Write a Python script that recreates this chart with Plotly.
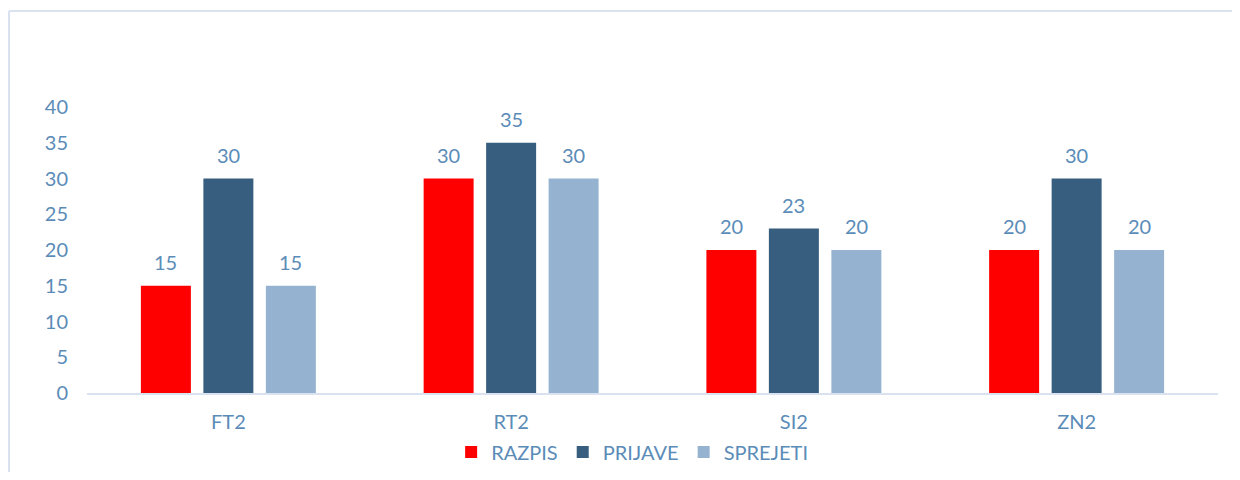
import plotly.graph_objects as go

categories = ["FT2", "RT2", "SI2", "ZN2"]
razpis = [15, 30, 20, 20]
prijave = [30, 35, 23, 30]
sprejeti = [15, 30, 20, 20]
series_names = ["RAZPIS", "PRIJAVE", "SPREJETI"]
colors = ["#FF0000", "#375E7E", "#95B3D1"]

TXT = "#5B8CB8"
FONT = "Lato, 'Open Sans', sans-serif"

# page offset (body margin) is 8px
OFF = 8
W, H = 1232, 464
ml, mr, mt = 87 - OFF, 22, 107 - OFF
mb = H - (393 - OFF)
pw, ph = W - ml - mr, H - mt - mb
BARGAP, GROUPGAP = 0.337, 0.2

fig = go.Figure()
series = [razpis, prijave, sprejeti]
for name, vals, col in zip(series_names, series, colors):
    fig.add_trace(go.Bar(
        x=categories, y=vals, name=name, marker_color=col,
        marker_line_width=0, cliponaxis=False,
    ))

# data labels placed above bars
cat_px = pw / len(categories)
slot_px = cat_px * (1 - BARGAP) / len(series)
annotations = []
for i, vals in enumerate(series):
    for c, v in zip(categories, vals):
        annotations.append(dict(
            x=c, y=v, xref="x", yref="y", text=str(v), showarrow=False,
            xshift=(i - 1) * slot_px, yshift=10, yanchor="bottom",
            font=dict(size=20, color=TXT, family=FONT)))

def px_to_paper_x(px):
    return (px - OFF - ml) / pw

def px_to_paper_y(py):
    return (H - mb - (py - OFF)) / ph

bx0, by1 = px_to_paper_x(9), px_to_paper_y(11)
bx1, by0 = px_to_paper_x(1240), px_to_paper_y(480)

fig.update_layout(
    width=W, height=H,
    margin=dict(l=ml, r=mr, t=mt, b=mb, autoexpand=False),
    paper_bgcolor="white", plot_bgcolor="white",
    barmode="group", bargap=BARGAP, bargroupgap=GROUPGAP,
    font=dict(family=FONT, color=TXT, size=20),
    showlegend=True,
    legend=dict(orientation="h", x=0.482, xanchor="center",
                y=px_to_paper_y(452), yanchor="middle",
                font=dict(size=20, color=TXT, family=FONT),
                itemwidth=30, traceorder="normal"),
    xaxis=dict(showgrid=False, showline=True, linecolor="#D9E2EE", linewidth=2,
               ticks="", tickfont=dict(size=20, color=TXT), ticklabelstandoff=10,
               zeroline=False),
    yaxis=dict(range=[0, 40], dtick=5, showgrid=False, showline=False,
               zeroline=False, tickfont=dict(size=20, color=TXT),
               ticklabelstandoff=18),
    annotations=annotations,
    shapes=[
        dict(type="line", xref="paper", yref="paper",
             x0=bx0, x1=bx0, y0=by0, y1=by1,
             line=dict(color="#D9E2EE", width=2), layer="below"),
        dict(type="line", xref="paper", yref="paper",
             x0=bx0, x1=bx1, y0=by1, y1=by1,
             line=dict(color="#D9E2EE", width=2), layer="below"),
    ],
)

fig.write_html("out.html")
